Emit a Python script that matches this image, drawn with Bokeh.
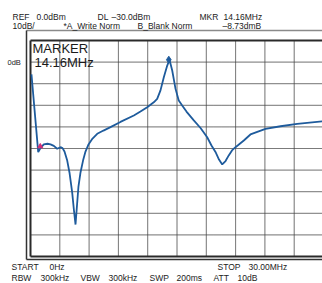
from bokeh.plotting import figure
from bokeh.models import Range1d, Label
from bokeh.embed import file_html
from bokeh.resources import INLINE

# ---- data (MHz, dB) ----
freq_mhz = [0.10, 0.79, 1.02, 1.36, 1.74, 2.05, 2.39, 2.73, 3.07, 3.28, 3.48, 3.76,
            3.99, 4.27, 4.45, 4.61, 4.76, 4.91, 5.12, 5.38, 5.63, 5.94, 6.35, 6.83,
            7.47, 8.19, 9.21, 10.58, 11.26, 11.95, 12.62, 12.97, 13.31, 13.65, 14.00,
            14.23, 14.51, 14.85, 15.18, 15.53, 15.97, 16.72, 17.41, 18.09, 18.53,
            18.94, 19.30, 19.63, 19.97, 20.30, 20.63, 20.99, 21.84, 22.52, 24.06,
            25.60, 27.31, 29.87]
level_db = [-5.7, -41.7, -39.8, -38.1, -37.8, -38.1, -38.8, -40.1, -39.4, -39.8, -41.4, -45.6,
            -51.1, -60.4, -68.7, -75.2, -66.4, -57.6, -51.1, -45.6, -41.4, -38.1, -35.4, -33.2,
            -31.7, -30.1, -27.7, -24.7, -22.9, -20.9, -18.6, -17.0, -13.1, -7.0, -1.6,
            1.1, -3.9, -12.4, -17.8, -20.1, -22.9, -27.0, -30.5, -34.8, -38.6,
            -41.6, -45.1, -47.4, -45.8, -43.2, -40.9, -39.4, -36.3, -33.5, -30.9,
            -29.7, -28.6, -27.4]
marker_mhz = [14.16]
marker_db = [1.1]
marker2_mhz = [1.0]
marker2_db = [-39.0]
grid_x_mhz = [3, 6, 9, 12, 15, 18, 21, 24, 27]
grid_y_db = [0, -10, -20, -30, -40, -50, -60, -70, -80]
x_lo, x_hi = 0, 30
y_lo, y_hi = -90, 10

# ---- picture pixel -> data helpers (layout only) ----
def dx(px):
    return (px - 30) / 293.0 * 30.0

def dy(py):
    return 10.0 - (py - 40) / 216.0 * 100.0

W, H = 322, 283
p = figure(width=W, height=H, output_backend="svg", toolbar_location=None,
           x_range=Range1d(dx(0), dx(W)), y_range=Range1d(dy(H), dy(0)),
           x_axis_location=None, y_axis_location=None, min_border=0,
           outline_line_color=None, background_fill_color="white",
           border_fill_color="white")
p.grid.visible = False

# grid: faint solid under dotted
nx, ny = len(grid_x_mhz), len(grid_y_db)
for col, dash, wdt in (("#d4d4d4", "solid", 1), ("#222222", "1 1", 1)):
    p.segment(x0=grid_x_mhz, x1=grid_x_mhz, y0=[y_lo] * nx, y1=[y_hi] * nx,
              line_color=col, line_dash=dash, line_width=wdt)
    p.segment(x0=[x_lo] * ny, x1=[x_hi] * ny, y0=grid_y_db, y1=grid_y_db,
              line_color=col, line_dash=dash, line_width=wdt)

# frames
p.segment(x0=[dx(26)], x1=[dx(330)], y0=[dy(30)], y1=[dy(30)], line_color="#8a8a8a", line_width=1.5)
p.segment(x0=[dx(26)], x1=[dx(26)], y0=[dy(30)], y1=[dy(259)], line_color="#333333", line_width=1.5)
p.segment(x0=[dx(26)], x1=[dx(330)], y0=[dy(259)], y1=[dy(259)], line_color="#333333", line_width=1.5)
p.segment(x0=[x_lo, x_lo, x_lo], x1=[x_lo, x_hi, x_hi], y0=[y_lo, y_hi, y_lo], y1=[y_hi, y_hi, y_lo],
          line_color="#2a2a2a", line_width=2)

# trace
p.line(freq_mhz, level_db, line_color="#1e5b9c", line_width=1.8)
p.scatter(marker_mhz, marker_db, marker="diamond", size=7, color="#1e5b9c")
p.scatter(marker2_mhz, marker2_db, marker="triangle", size=5, color="#d0307a")

def lab(text, px, py, size="8.5px", color="#222222"):
    p.add_layout(Label(x=dx(px), y=dy(py), text=text, text_font="Liberation Sans",
                       text_font_size=size, text_color=color, text_baseline="middle",
                       text_align="left"))

# header
lab("REF", 12, 16); lab("0.0dBm", 36, 16)
lab("DL", 97, 16); lab("\u201330.0dBm", 111, 16)
lab("MKR", 199, 16); lab("14.16MHz", 223, 16)
lab("10dB/", 12, 25); lab("*A_Write Norm", 63, 25)
lab("B_Blank Norm", 137, 25); lab("\u20138.73dmB", 222, 25)

lab("0dB", 7, 62, size="7.5px")
lab("MARKER", 32, 48, size="13px", color="#1a1a1a")
lab("14.16MHz", 34, 62, size="13px", color="#1a1a1a")

# footer
lab("START", 11, 266); lab("0Hz", 49, 266)
lab("STOP", 217, 266); lab("30.00MHz", 248, 266)
lab("RBW", 11, 277); lab("300kHz", 40, 277)
lab("VBW", 80, 277); lab("300kHz", 108, 277)
lab("SWP", 149, 277); lab("200ms", 176, 277)
lab("ATT", 213, 277); lab("10dB", 237, 277)

open("out.html", "w").write(file_html(p, INLINE))
